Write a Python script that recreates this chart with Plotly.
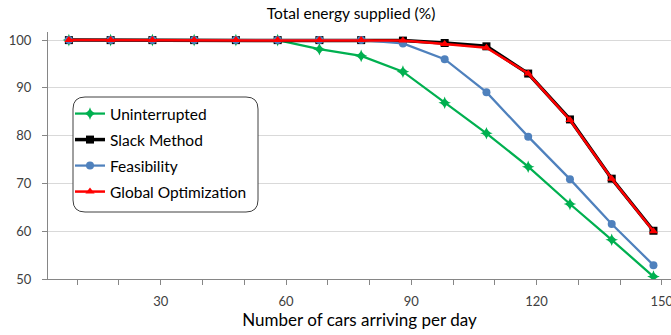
import plotly.graph_objects as go

cars = [8, 18, 28, 38, 48, 58, 68, 78, 88, 98, 108, 118, 128, 138, 148]
uninterrupted = [100, 100, 100, 100, 100, 100, 98.1, 96.7, 93.4, 86.9, 80.5, 73.5, 65.7, 58.2, 50.5]
slack = [100, 100, 100, 100, 100, 100, 100, 100, 99.9, 99.4, 98.7, 93.0, 83.4, 71.0, 60.1]
feasibility = [100, 100, 100, 100, 100, 100, 100, 100, 99.3, 96.0, 89.1, 79.8, 70.9, 61.5, 52.9]
global_opt = [100, 100, 100, 100, 100, 100, 100, 100, 99.9, 99.2, 98.4, 93.0, 83.3, 71.0, 60.0]

W, H = 671, 335
L, R, T, B = 48, 0, 32, 56
PW, PH = W - L - R, H - T - B

def px(xp):
    return (xp - L) / PW

def py(yp):
    return (H - B - yp) / PH

FONT = "Lato"

fig = go.Figure()
series = [
    ("Uninterrupted", uninterrupted, "#00b050", 2.25, "star-diamond", 9, "legend"),
    ("Slack Method", slack, "#000000", 3.5, "square", 8, "legend2"),
    ("Feasibility", feasibility, "#4f81bd", 2.25, "circle", 8, "legend3"),
    ("Global Optimization", global_opt, "#ff0000", 2.5, "triangle-up", 8, "legend4"),
]
for name, vals, col, lw, sym, ms, lg in series:
    fig.add_trace(go.Scatter(
        x=cars, y=vals, name=name, mode="lines+markers",
        line=dict(color=col, width=lw),
        marker=dict(symbol=sym, size=ms, color=col, line=dict(width=0)),
        legend=lg,
    ))

rows = [114, 140, 166, 192]
leg_common = dict(bgcolor="rgba(0,0,0,0)", borderwidth=0,
                  font=dict(family=FONT, size=15.5, color="#000000"),
                  xanchor="left", yanchor="middle")
fig.update_layout(
    legend=dict(x=px(70), y=py(rows[0]), **leg_common),
    legend2=dict(x=px(70), y=py(rows[1]), **leg_common),
    legend3=dict(x=px(70), y=py(rows[2]), **leg_common),
    legend4=dict(x=px(70), y=py(rows[3]), **leg_common),
)

# rounded legend box
x0, x1, y0, y1 = px(73), px(258), py(212), py(97)
rx, ry = 12 / PW, 12 / PH
path = (f"M {x0+rx},{y1} L {x1-rx},{y1} Q {x1},{y1} {x1},{y1-ry} "
        f"L {x1},{y0+ry} Q {x1},{y0} {x1-rx},{y0} L {x0+rx},{y0} "
        f"Q {x0},{y0} {x0},{y0+ry} L {x0},{y1-ry} Q {x0},{y1} {x0+rx},{y1} Z")
fig.add_shape(type="path", path=path, xref="paper", yref="paper",
              line=dict(color="#404040", width=1), fillcolor="white", layer="above")

fig.update_layout(
    width=W, height=H,
    margin=dict(l=L, r=R, t=T, b=B, autoexpand=False),
    paper_bgcolor="white", plot_bgcolor="white",
    font=dict(family=FONT, size=13, color="#404040"),
    title=dict(text="Total energy supplied (%)", font=dict(family=FONT, size=15.5, color="#000000"),
               x=351 / W, xanchor="center", xref="container",
               y=1 - 14 / H, yanchor="middle", yref="container"),
    showlegend=True,
)
fig.update_xaxes(
    range=[3, 152.2], tick0=0, dtick=30, ticks="outside", ticklen=5, tickcolor="#868686",
    showline=True, linecolor="#868686", linewidth=1, showgrid=False, zeroline=False,
    minor=dict(dtick=10, tick0=0, ticks="outside", ticklen=5, tickcolor="#868686", showgrid=False),
    ticklabelstandoff=5, automargin=False, ticklabeloverflow="allow",
    tickfont=dict(family=FONT, size=13, color="#404040"),
    title=dict(text="Number of cars arriving per day", standoff=5,
               font=dict(family=FONT, size=17, color="#000000")),
)
fig.update_yaxes(
    range=[50, 101.7], tick0=50, dtick=10, ticks="outside", ticklen=5, tickcolor="#868686",
    showline=True, linecolor="#868686", linewidth=1,
    showgrid=True, gridcolor="#d9d9d9", gridwidth=1, zeroline=False,
    ticklabelstandoff=8, automargin=False,
    tickfont=dict(family=FONT, size=13, color="#404040"),
)

fig.write_html("out.html", config={"displayModeBar": False},
               post_script="document.body.style.margin='0';document.body.style.overflow='hidden';")
